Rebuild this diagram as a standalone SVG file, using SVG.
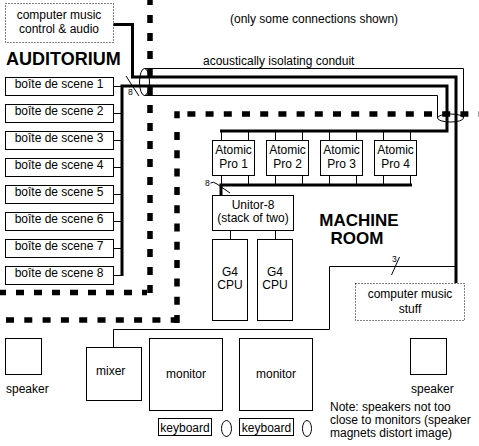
<svg xmlns="http://www.w3.org/2000/svg" width="479" height="446" viewBox="0 0 479 446">
<style>
text{font-family:"Liberation Sans",Arial,sans-serif;font-size:12px;fill:#000}
.c{text-anchor:middle}
.b{font-weight:bold}
.h1{font-size:18px}
.h2{font-size:17px}
.box{fill:#fff;stroke:#000;stroke-width:1}
.dot{fill:#fff;stroke:#000;stroke-width:1;stroke-dasharray:1 2}
.wall{fill:none;stroke:#000;stroke-width:5.5}
.thick{fill:none;stroke:#000;stroke-width:3}
.thin{fill:none;stroke:#000;stroke-width:1}
.sm{font-size:8.5px}
</style>
<rect width="479" height="446" fill="#fff"/>
<g id="walls">
<path class="wall" d="M150,-3V295" stroke-dasharray="8 10"/>
<path class="wall" d="M147,292.5H0" stroke-dasharray="8 10" stroke-dashoffset="3"/>
<rect x="174.25" y="111.25" width="5.5" height="7"/>
<path class="wall" d="M177,114H479" stroke-dasharray="8 10.2" stroke-dashoffset="7.8"/>
<path class="wall" d="M177,122V323" stroke-dasharray="8 10.3" stroke-dashoffset="8.3"/>
<path class="wall" d="M0,320H180" stroke-dasharray="8 10.3" stroke-dashoffset="12.3"/>
</g>
<g id="connectors">
<path class="thin" d="M144.5,68.5H463.5V118"/>
<path class="thin" d="M144.5,95.5H437.5V118"/>
<ellipse class="thin" cx="144.5" cy="82" rx="5" ry="13.5"/>
<ellipse class="thin" cx="450.5" cy="118" rx="13" ry="4"/>
<path class="thick" d="M113,24.5H132.5V77H456V283"/>
<path class="thick" d="M122,276V86H447V131H220"/>
<path class="thick" d="M412,185H221V195"/>
<g class="thin">
<path d="M113.5,86.5H122M113.5,113.5H122M113.5,140.5H122M113.5,167.5H122M113.5,194.5H122M113.5,221.5H122M113.5,248.5H122M113.5,275.5H122"/>
<path d="M221.5,131V140.5M248.5,131V140.5M275.5,131V140.5M302.5,131V140.5M329.5,131V140.5M356.5,131V140.5M383.5,131V140.5M410.5,131V140.5"/>
<path d="M221.5,175.5V185M248.5,175.5V185M275.5,175.5V185M302.5,175.5V185M329.5,175.5V185M356.5,175.5V185M383.5,175.5V185M410.5,175.5V185"/>
<path d="M230.5,230.5V239.5M275.5,230.5V239.5"/>
<path d="M113.5,347V329.5H329.5V266.5H456"/>
<path d="M126,76L139,96"/>
<path d="M210.5,183Q213,181 217,184L230,193"/>
<path d="M399.5,257L391.5,275"/>
</g>
<text class="sm" x="128" y="94.5">8</text>
<text class="sm" x="205" y="186">8</text>
<text class="sm" x="392" y="262">3</text>
</g>
<g id="labels">
<text x="230" y="23">(only some connections shown)</text>
<text x="203" y="65">acoustically isolating conduit</text>
<text class="b h1" x="6" y="65">AUDITORIUM</text>
<text class="b c h2" x="359" y="226">MACHINE</text>
<text class="b c h2" x="357" y="244">ROOM</text>
</g>
<g id="control-audio">
<rect class="dot" x="5.5" y="3.5" width="108" height="39"/>
<text class="c" x="59" y="19">computer music</text>
<text class="c" x="59" y="33">control &amp; audio</text>
</g>
<g id="scene1"><rect class="box" x="5.5" y="77.5" width="108" height="18"/><text class="c" x="59" y="87.5">boîte de scene 1</text></g>
<g id="scene2"><rect class="box" x="5.5" y="104.5" width="108" height="18"/><text class="c" x="59" y="114.5">boîte de scene 2</text></g>
<g id="scene3"><rect class="box" x="5.5" y="131.5" width="108" height="18"/><text class="c" x="59" y="141.5">boîte de scene 3</text></g>
<g id="scene4"><rect class="box" x="5.5" y="158.5" width="108" height="18"/><text class="c" x="59" y="168.5">boîte de scene 4</text></g>
<g id="scene5"><rect class="box" x="5.5" y="185.5" width="108" height="18"/><text class="c" x="59" y="195.5">boîte de scene 5</text></g>
<g id="scene6"><rect class="box" x="5.5" y="212.5" width="108" height="18"/><text class="c" x="59" y="222.5">boîte de scene 6</text></g>
<g id="scene7"><rect class="box" x="5.5" y="239.5" width="108" height="18"/><text class="c" x="59" y="249.5">boîte de scene 7</text></g>
<g id="scene8"><rect class="box" x="5.5" y="266.5" width="108" height="18"/><text class="c" x="59" y="276.5">boîte de scene 8</text></g>
<g id="atomic1"><rect class="box" x="212.5" y="140.5" width="42" height="35"/><text class="c" x="233.5" y="154">Atomic</text><text class="c" x="233.5" y="168">Pro 1</text></g>
<g id="atomic2"><rect class="box" x="266.5" y="140.5" width="42" height="35"/><text class="c" x="287.5" y="154">Atomic</text><text class="c" x="287.5" y="168">Pro 2</text></g>
<g id="atomic3"><rect class="box" x="320.5" y="140.5" width="42" height="35"/><text class="c" x="341.5" y="154">Atomic</text><text class="c" x="341.5" y="168">Pro 3</text></g>
<g id="atomic4"><rect class="box" x="374.5" y="140.5" width="42" height="35"/><text class="c" x="395.5" y="154">Atomic</text><text class="c" x="395.5" y="168">Pro 4</text></g>
<g id="unitor"><rect class="box" x="212.5" y="195.5" width="81" height="35"/><text class="c" x="253" y="209">Unitor-8</text><text class="c" x="253" y="222">(stack of two)</text></g>
<g id="cpu1"><rect class="box" x="212.5" y="239.5" width="35" height="81"/><text class="c" x="230" y="276">G4</text><text class="c" x="230" y="289">CPU</text></g>
<g id="cpu2"><rect class="box" x="257.5" y="239.5" width="35" height="81"/><text class="c" x="275" y="276">G4</text><text class="c" x="275" y="289">CPU</text></g>
<g id="music-stuff"><rect class="dot" x="355.5" y="283.5" width="109" height="37"/><text class="c" x="410" y="298">computer music</text><text class="c" x="410" y="312.5">stuff</text></g>
<g id="speaker-left"><rect class="box" x="5.5" y="338.5" width="36" height="36"/><text x="6" y="393">speaker</text></g>
<g id="mixer"><rect class="box" x="86.5" y="347.5" width="55" height="53"/><text x="96" y="375">mixer</text></g>
<g id="monitor1"><rect class="box" x="149.5" y="338.5" width="73" height="72"/><text class="c" x="186" y="378">monitor</text></g>
<g id="keyboard1"><rect class="box" x="158.5" y="418.5" width="53" height="17"/><text class="c" x="185" y="431.5">keyboard</text></g>
<g id="mouse1"><ellipse class="box" cx="226.5" cy="428.5" rx="5" ry="8"/></g>
<g id="monitor2"><rect class="box" x="239.5" y="338.5" width="73" height="72"/><text class="c" x="276" y="378">monitor</text></g>
<g id="keyboard2"><rect class="box" x="239.5" y="418.5" width="54" height="17"/><text class="c" x="266.5" y="431.5">keyboard</text></g>
<g id="mouse2"><ellipse class="box" cx="307" cy="428.5" rx="4.5" ry="8"/></g>
<g id="speaker-right"><rect class="box" x="410.5" y="338.5" width="36" height="36"/><text x="411" y="393">speaker</text></g>
<g id="note">
<text x="330" y="411">Note: speakers not too</text>
<text x="330" y="424">close to monitors (speaker</text>
<text x="330" y="437">magnets distort image)</text>
</g>
</svg>
